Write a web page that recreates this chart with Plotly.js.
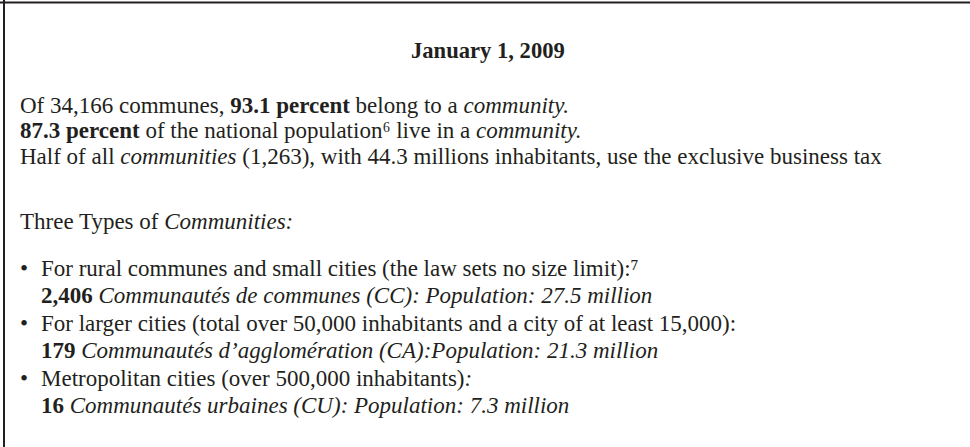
<!DOCTYPE html>
<html>
<head>
<meta charset="utf-8">
<script src="https://cdn.plot.ly/plotly-3.0.1.min.js"></script>
<style>html,body{margin:0;padding:0;background:#fff;}#chart{width:970px;height:447px;}</style>
</head>
<body>
<div id="chart"></div>
<script>
// ---- content ----
const titleText = "<b>January 1, 2009</b>";
const summaryLines = [
  "Of 34,166 communes, <b>93.1 percent</b> belong to a <i>community.</i>",
  "<b>87.3 percent</b> of the national population\u2076 live in a <i>community.</i>",
  "Half of all <i>communities</i> (1,263), with 44.3 millions inhabitants, use the exclusive business tax"
];
const typesHeading = "Three Types of <i>Communities:</i>";
const bulletDescriptions = [
  "For rural communes and small cities (the law sets no size limit):\u2077",
  "For larger cities (total over 50,000 inhabitants and a city of at least 15,000):",
  "Metropolitan cities (over 500,000 inhabitants)<i>:</i>"
];
const bulletCounts = ["2,406", "179", "16"];
const bulletNames = [
  "Communautés de communes (CC): Population: 27.5 million",
  "Communautés d’agglomération (CA):Population: 21.3 million",
  "Communautés urbaines (CU): Population: 7.3 million"
];

// ---- layout ----
const W = 970, H = 447;
const FONT = {family: "Liberation Serif, Times New Roman, serif", size: 23, color: "#231f20"};
const TITLE_FONT = {family: "Liberation Serif, Times New Roman, serif", size: 22.6, color: "#231f20"};
const ann = [];
function add(text, x, y, xanchor, font) {
  ann.push({text: text, x: x, y: y, xref: "x", yref: "y", showarrow: false,
            xanchor: xanchor || "left", yanchor: "middle", font: font || FONT});
}
add(titleText, 488, 50, "center", TITLE_FONT);
const textX = 18, topH = 25.5, bulH = 27.5;
summaryLines.forEach((t, i) => add(t, textX, 105 + i * topH));
add(typesHeading, textX, 221);
bulletDescriptions.forEach((t, i) => {
  const y0 = 268 + i * 2 * bulH;
  add("•", 18, y0);
  add(t, 39, y0);
  add("<b>" + bulletCounts[i] + "</b> <i>" + bulletNames[i] + "</i>", 39, y0 + bulH);
});

const layout = {
  width: W, height: H,
  margin: {l: 0, r: 0, t: 0, b: 0},
  paper_bgcolor: "#ffffff", plot_bgcolor: "#ffffff",
  xaxis: {range: [0, W], visible: false, fixedrange: true},
  yaxis: {range: [H, 0], visible: false, fixedrange: true},
  showlegend: false,
  annotations: ann,
  shapes: [
    {type: "line", xref: "x", yref: "y", x0: 0, x1: W, y0: 2.5, y1: 2.5, line: {color: "#231f20", width: 2}},
    {type: "line", xref: "x", yref: "y", x0: 4, x1: 4, y0: 0, y1: H, line: {color: "#231f20", width: 2}}
  ]
};
Plotly.newPlot("chart", [], layout, {displayModeBar: false, staticPlot: true});
</script>
</body>
</html>
